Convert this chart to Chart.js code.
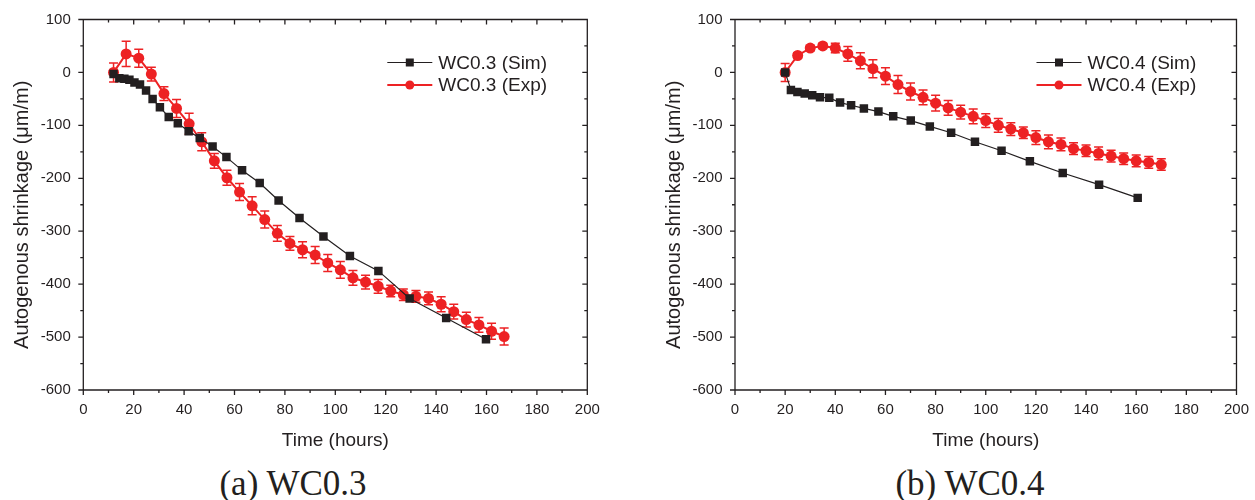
<!DOCTYPE html>
<html>
<head>
<meta charset="utf-8">
<title>Autogenous shrinkage</title>
<script src="https://cdn.jsdelivr.net/npm/chart.js@4.4.1/dist/chart.umd.min.js"></script>
<style>
  html, body { margin: 0; padding: 0; background: #fff; }
  body { width: 1255px; height: 500px; position: relative; overflow: hidden; }
  .box { position: absolute; top: 0; height: 460px; }
  .caption {
    position: absolute; top: 466px; width: 300px; text-align: center;
    font-family: "Liberation Serif", "Times New Roman", serif; font-size: 35px;
    line-height: 35px; color: #231f20; white-space: nowrap;
  }
</style>
</head>
<body>
<div class="box" style="left:0; width:620px;"><canvas id="chartWC03"></canvas></div>
<div class="box" style="left:650px; width:605px;"><canvas id="chartWC04"></canvas></div>
<div class="caption" style="left:143px;">(a) WC0.3</div>
<div class="caption" style="left:820px;">(b) WC0.4</div>

<script>
'use strict';

// ---- data ----
// WC0.3 simulation
const simHours03 = [12, 14.3, 16.3, 18.3, 20.3, 22.5, 24.9, 27.5, 30.4, 33.9, 37.5, 41.8, 46.2,
                    51.3, 56.8, 63, 70, 77.5, 85.8, 95.3, 105.8, 117.1, 129.5, 144, 159.8];
const simStrain03 = [-3, -11, -12, -14, -19, -23, -34, -50, -66, -84, -96, -111, -124,
                     -140, -160, -185, -209, -242, -275, -310, -347, -375, -427, -464, -504];
// WC0.3 experiment
const expHours03 = [12, 17, 22, 27, 32, 37, 42, 47, 52, 57, 62, 67, 72, 77, 82, 87,
                    92, 97, 102, 107, 112, 117, 122, 127, 132, 137, 142, 147, 152, 157, 162, 167];
const expStrain03 = [0, 35, 27, -3, -40, -68, -97, -131, -167, -199, -226, -252, -278, -304, -323, -335,
                     -345, -360, -373, -388, -396, -404, -413, -420, -423, -427, -438, -452, -467, -477, -489, -499];
const expError03 = [18, 24, 17, 13, 13, 17, 20, 17, 14, 14, 16, 17, 16, 15, 13, 15,
                    16, 16, 16, 14, 13, 13, 11, 11, 11, 12, 14, 14, 14, 14, 15, 16];

// WC0.4 simulation
const simHours04 = [20, 22.3, 24.9, 27.8, 30.8, 33.9, 37.6, 41.9, 46.3, 51.4, 57.2, 63.1, 70.1,
                    77.7, 86.2, 95.7, 106.3, 117.6, 130.7, 145.2, 160.6];
const simStrain04 = [0, -33, -37, -40, -43, -47, -48, -57, -62, -68, -74, -83, -91,
                     -102, -114, -131, -148, -168, -190, -212, -237];
// WC0.4 experiment
const expHours04 = [20, 25, 30, 35, 40, 45, 50, 55, 60, 65, 70, 75, 80, 85, 90, 95,
                    100, 105, 110, 115, 120, 125, 130, 135, 140, 145, 150, 155, 160, 165, 170];
const expStrain04 = [0, 32, 46, 50, 46, 35, 22, 7, -7, -23, -36, -47, -58, -67, -75, -83,
                     -91, -100, -107, -114, -123, -131, -136, -144, -148, -153, -158, -163, -167, -170, -174];
const expError04 = [17, 5, 5, 5, 9, 14, 15, 17, 16, 17, 16, 14, 15, 14, 13, 14,
                    13, 13, 12, 11, 13, 13, 12, 11, 11, 12, 11, 11, 11, 11, 11];

const INK = '#231f20';
const RED = '#ed2224';
const SANS = '"Liberation Sans", Arial, sans-serif';

function toPoints(xs, ys) {
    return xs.map(function(x, i) { return { x: x, y: ys[i] }; });
}

// error bars, drawn right after the dataset that carries them
const errorBars = {
    id: 'errorBars',
    afterDatasetDraw(chart, args) {
        const ds = chart.data.datasets[args.index];
        if (!ds.errors) return;
        const yScale = chart.scales.y;
        const ctx = chart.ctx;
        ctx.save();
        ctx.strokeStyle = ds.borderColor;
        ctx.lineWidth = 1.5;
        ctx.beginPath();
        args.meta.data.forEach(function(pt, i) {
            const v = ds.data[i].y;
            const e = ds.errors[i];
            const top = yScale.getPixelForValue(v + e);
            const bot = yScale.getPixelForValue(v - e);
            ctx.moveTo(pt.x, top); ctx.lineTo(pt.x, bot);
            ctx.moveTo(pt.x - 4.5, top); ctx.lineTo(pt.x + 4.5, top);
            ctx.moveTo(pt.x - 4.5, bot); ctx.lineTo(pt.x + 4.5, bot);
        });
        ctx.stroke();
        ctx.restore();
    }
};

// box frame with outward ticks on left/bottom and inward ticks on top/right
const frameTicks = {
    id: 'frameTicks',
    afterDraw(chart) {
        const a = chart.chartArea;
        const x = chart.scales.x, y = chart.scales.y;
        const ctx = chart.ctx;
        ctx.save();
        ctx.strokeStyle = INK;
        ctx.lineWidth = 1.3;
        ctx.beginPath();
        ctx.rect(a.left, a.top, a.right - a.left, a.bottom - a.top);
        x.ticks.forEach(function(t) {
            const px = x.getPixelForValue(t.value);
            const len = t.value % 20 === 0 ? 5 : 3;
            ctx.moveTo(px, a.bottom); ctx.lineTo(px, a.bottom + len);
            ctx.moveTo(px, a.top); ctx.lineTo(px, a.top + len);
        });
        y.ticks.forEach(function(t) {
            const py = y.getPixelForValue(t.value);
            const len = t.value % 100 === 0 ? 5 : 3;
            ctx.moveTo(a.left, py); ctx.lineTo(a.left - len, py);
            ctx.moveTo(a.right, py); ctx.lineTo(a.right - len, py);
        });
        ctx.stroke();

        // vertical axis title
        ctx.fillStyle = INK;
        ctx.font = '20px ' + SANS;
        ctx.textAlign = 'center';
        ctx.textBaseline = 'middle';
        ctx.translate(a.left - 61, (a.top + a.bottom) / 2 + 10);
        ctx.rotate(-Math.PI / 2);
        ctx.fillText('Autogenous shrinkage (\u03bcm/m)', 0, 0);
        ctx.restore();
    }
};

// legend in the upper right of the plot: line + marker + label
const insetLegend = {
    id: 'insetLegend',
    afterDraw(chart) {
        const a = chart.chartArea;
        const ctx = chart.ctx;
        const rows = [43, 65.5];
        ctx.save();
        chart.data.datasets.forEach(function(ds, i) {
            const yy = a.top + rows[i];
            const x1 = a.right - 200, x2 = a.right - 155, xm = (x1 + x2) / 2;
            ctx.strokeStyle = ds.borderColor;
            ctx.lineWidth = ds.borderWidth;
            ctx.beginPath();
            ctx.moveTo(x1, yy); ctx.lineTo(x2, yy);
            ctx.stroke();
            ctx.fillStyle = ds.pointBackgroundColor;
            ctx.beginPath();
            if (ds.pointStyle === 'rect') {
                ctx.rect(xm - 4, yy - 4, 8, 8);
            } else {
                ctx.arc(xm, yy, 4.5, 0, Math.PI * 2);
            }
            ctx.fill();
            ctx.fillStyle = INK;
            ctx.font = '19px ' + SANS;
            ctx.textAlign = 'left';
            ctx.textBaseline = 'middle';
            ctx.fillText(ds.label, a.right - 149, yy + 1);
        });
        ctx.restore();
    }
};

function createChart(canvasId, wc, simX, simY, expX, expY, expErr, yAxisWidth, rightPad) {
    const canvas = document.getElementById(canvasId);
    const datasets = [
        {
            label: 'WC' + wc + ' (Sim)',
            data: toPoints(simX, simY),
            borderColor: INK,
            borderWidth: 1.2,
            pointStyle: 'rect',
            pointRadius: 6,
            pointBackgroundColor: INK,
            pointBorderColor: INK,
            pointBorderWidth: 0
        },
        {
            label: 'WC' + wc + ' (Exp)',
            data: toPoints(expX, expY),
            errors: expErr,
            borderColor: RED,
            borderWidth: 2,
            pointStyle: 'circle',
            pointRadius: 5.5,
            pointBackgroundColor: RED,
            pointBorderColor: RED,
            pointBorderWidth: 0
        }
    ];

    return new Chart(canvas.getContext('2d'), {
        type: 'line',
        data: { datasets: datasets },
        options: {
            responsive: true,
            maintainAspectRatio: false,
            animation: false,
            layout: { padding: { top: 19.5, right: rightPad, left: 0, bottom: 0 } },
            plugins: {
                legend: { display: false },
                tooltip: { enabled: false }
            },
            scales: {
                x: {
                    type: 'linear',
                    min: 0,
                    max: 200,
                    afterFit: function(scale) { scale.height = 70; },
                    ticks: {
                        stepSize: 10,
                        autoSkip: false,
                        maxRotation: 0,
                        padding: 6,
                        color: INK,
                        font: { family: SANS, size: 15 },
                        callback: function(v) { return v % 20 === 0 ? v : ''; }
                    },
                    grid: { drawOnChartArea: false, drawTicks: true, tickLength: 5, color: 'rgba(0,0,0,0)' },
                    border: { display: false },
                    title: {
                        display: true,
                        text: 'Time (hours)',
                        color: INK,
                        font: { family: SANS, size: 19 },
                        padding: { top: 0, bottom: 8 }
                    }
                },
                y: {
                    type: 'linear',
                    min: -600,
                    max: 100,
                    afterFit: function(scale) { scale.width = yAxisWidth; },
                    ticks: {
                        stepSize: 50,
                        autoSkip: false,
                        padding: 7.5,
                        color: INK,
                        font: { family: SANS, size: 15 },
                        callback: function(v) { return v % 100 === 0 ? v : ''; }
                    },
                    grid: { drawOnChartArea: false, drawTicks: true, tickLength: 5, color: 'rgba(0,0,0,0)' },
                    border: { display: false }
                }
            }
        },
        plugins: [errorBars, frameTicks, insetLegend]
    });
}

document.addEventListener('DOMContentLoaded', function() {
    if (typeof Chart === 'undefined') {
        console.error('Chart.js is not loaded!');
        return;
    }
    createChart('chartWC03', '0.3', simHours03, simStrain03, expHours03, expStrain03, expError03, 83.3, 32.7);
    createChart('chartWC04', '0.4', simHours04, simStrain04, expHours04, expStrain04, expError04, 85, 15);
});
</script>
</body>
</html>
